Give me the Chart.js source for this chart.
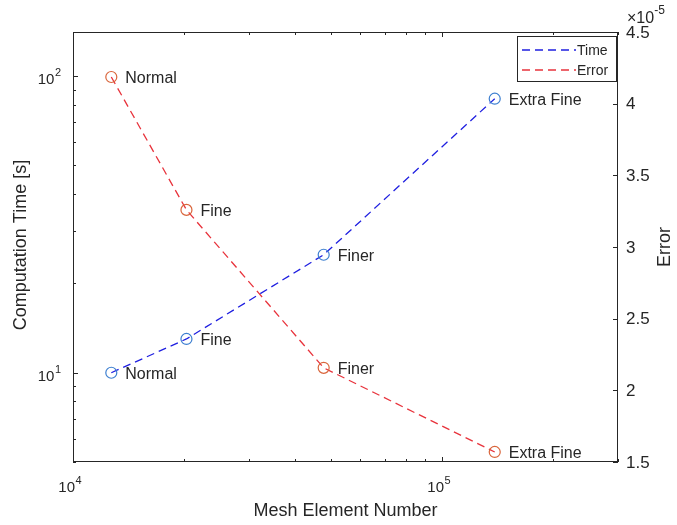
<!DOCTYPE html>
<html>
<head>
<meta charset="utf-8">
<title>Mesh convergence</title>
<script src="https://cdn.jsdelivr.net/npm/chart.js@4/dist/chart.umd.min.js"></script>
<style>
  html, body { margin: 0; padding: 0; background: #fff; }
  canvas { display: block; }
</style>
</head>
<body>
<canvas id="meshChart" width="677" height="525"></canvas>
<script>
// mesh study results
const refinementLabels = ['Normal', 'Fine', 'Finer', 'Extra Fine'];
const meshElements = [12700, 20300, 47800, 139000];
const timeSeconds = [10, 13, 25, 84];
const errorValues = [4.186e-5, 3.259e-5, 2.157e-5, 1.570e-5];

const FONT = "'Liberation Sans', Arial, Helvetica, sans-serif";
const INK = '#262626';

const timeLine = '#1f1fe0';
const timeMarker = '#3d7fd0';
const errorLine = '#e8333c';
const errorMarker = '#d9653b';

// superscript power-of-ten label, e.g. 10^4
function drawPow(ctx, exp, x, baseline, align) {
  ctx.font = '15px ' + FONT;
  const wBase = ctx.measureText('10').width;
  ctx.font = '11px ' + FONT;
  const wExp = ctx.measureText(String(exp)).width;
  const total = wBase + wExp + 0.5;
  let left = x;
  if (align === 'center') left = x - total / 2;
  if (align === 'right') left = x - total;
  ctx.textAlign = 'left';
  ctx.textBaseline = 'alphabetic';
  ctx.font = '15px ' + FONT;
  ctx.fillText('10', left, baseline);
  ctx.font = '11px ' + FONT;
  ctx.fillText(String(exp), left + wBase + 0.5, baseline - 8);
}

function isLogTick(v) {
  const p = Math.pow(10, Math.floor(Math.log10(v) + 1e-9));
  const m = v / p;
  return { ok: Math.abs(m - Math.round(m)) < 1e-6, major: Math.round(m) === 1, exp: Math.round(Math.log10(p)) };
}

// frame, inward ticks, tick labels, titles, point labels, legend
const axesDecor = {
  id: 'axesDecor',
  afterDraw(chart) {
    const { ctx, chartArea: a, scales } = chart;
    const xs = scales.x, yt = scales.yTime, ye = scales.yError;
    ctx.save();
    ctx.strokeStyle = INK;
    ctx.fillStyle = INK;
    ctx.lineWidth = 1;

    // box
    ctx.strokeRect(Math.round(a.left) + 0.5, Math.round(a.top) + 0.5,
      Math.round(a.right - a.left) - 1, Math.round(a.bottom - a.top) - 1);

    ctx.beginPath();
    // x ticks, bottom and top
    xs.ticks.forEach(t => {
      const info = isLogTick(t.value);
      if (!info.ok) return;
      const px = Math.round(xs.getPixelForValue(t.value)) + 0.5;
      const len = info.major ? 5 : 3;
      ctx.moveTo(px, a.bottom); ctx.lineTo(px, a.bottom - len);
      ctx.moveTo(px, a.top); ctx.lineTo(px, a.top + len);
    });
    // left log ticks
    yt.ticks.forEach(t => {
      const info = isLogTick(t.value);
      if (!info.ok) return;
      const py = Math.round(yt.getPixelForValue(t.value)) + 0.5;
      const len = info.major ? 5 : 3;
      ctx.moveTo(a.left, py); ctx.lineTo(a.left + len, py);
    });
    // right linear ticks
    ye.ticks.forEach(t => {
      const py = Math.round(ye.getPixelForValue(t.value)) + 0.5;
      ctx.moveTo(a.right, py); ctx.lineTo(a.right - 5, py);
    });
    ctx.stroke();

    // tick labels
    xs.ticks.forEach(t => {
      const info = isLogTick(t.value);
      if (info.ok && info.major) drawPow(ctx, info.exp, xs.getPixelForValue(t.value) - 3, a.bottom + 30, 'center');
    });
    yt.ticks.forEach(t => {
      const info = isLogTick(t.value);
      if (info.ok && info.major) drawPow(ctx, info.exp, a.left - 12, yt.getPixelForValue(t.value) + 8, 'right');
    });
    ctx.font = '17px ' + FONT;
    ctx.textAlign = 'left';
    ctx.textBaseline = 'middle';
    ye.ticks.forEach(t => {
      const label = parseFloat((t.value * 1e5).toFixed(2)).toString();
      ctx.fillText(label, a.right + 8, ye.getPixelForValue(t.value) + 1);
    });

    // exponent multiplier above right axis
    ctx.textBaseline = 'alphabetic';
    ctx.font = '16px ' + FONT;
    ctx.fillText('\u00d710', a.right + 9, 23);
    const wm = ctx.measureText('\u00d710').width;
    ctx.font = '12px ' + FONT;
    ctx.fillText('-5', a.right + 9 + wm, 14);

    // axis titles
    ctx.font = '18px ' + FONT;
    ctx.textAlign = 'center';
    ctx.textBaseline = 'alphabetic';
    ctx.fillText('Mesh Element Number', (a.left + a.right) / 2, 516);
    ctx.textBaseline = 'middle';
    ctx.save();
    ctx.translate(21, (a.top + a.bottom) / 2 - 2);
    ctx.rotate(-Math.PI / 2);
    ctx.fillText('Computation Time [s]', 0, 0);
    ctx.restore();
    ctx.save();
    ctx.translate(665, (a.top + a.bottom) / 2);
    ctx.rotate(-Math.PI / 2);
    ctx.fillText('Error', 0, 0);
    ctx.restore();

    // refinement labels next to every marker
    ctx.font = '16px ' + FONT;
    ctx.textAlign = 'left';
    ctx.textBaseline = 'middle';
    chart.data.datasets.forEach((ds, di) => {
      chart.getDatasetMeta(di).data.forEach((pt, i) => {
        ctx.fillText(refinementLabels[i], pt.x + 14, pt.y + 2);
      });
    });

    // legend
    const lx = 517, ly = 36, lw = 99, lh = 45;
    ctx.fillStyle = '#fff';
    ctx.fillRect(lx, ly, lw, lh);
    ctx.strokeStyle = INK;
    ctx.strokeRect(lx + 0.5, ly + 0.5, lw, lh);
    ctx.font = '14px ' + FONT;
    ctx.textBaseline = 'middle';
    chart.data.datasets.forEach((ds, di) => {
      const yy = ly + 14 + di * 20;
      ctx.save();
      ctx.strokeStyle = ds.borderColor;
      ctx.lineWidth = ds.borderWidth;
      ctx.setLineDash(ds.borderDash);
      ctx.beginPath();
      ctx.moveTo(lx + 5, yy);
      ctx.lineTo(lx + 59, yy);
      ctx.stroke();
      ctx.restore();
      ctx.fillStyle = INK;
      ctx.fillText(ds.label, lx + 60, yy + 1);
    });
    ctx.restore();
  }
};

const ctx = document.getElementById('meshChart').getContext('2d');
new Chart(ctx, {
  type: 'line',
  data: {
    datasets: [
      {
        label: 'Time',
        yAxisID: 'yTime',
        data: meshElements.map((x, i) => ({ x, y: timeSeconds[i] })),
        borderColor: timeLine,
        borderWidth: 1.3,
        borderDash: [8, 5],
        tension: 0,
        fill: false,
        pointStyle: 'circle',
        pointRadius: 5.5,
        pointBorderWidth: 1.2,
        pointBorderColor: timeMarker,
        pointBackgroundColor: 'rgba(0,0,0,0)'
      },
      {
        label: 'Error',
        yAxisID: 'yError',
        data: meshElements.map((x, i) => ({ x, y: errorValues[i] })),
        borderColor: errorLine,
        borderWidth: 1.3,
        borderDash: [8, 5],
        tension: 0,
        fill: false,
        pointStyle: 'circle',
        pointRadius: 5.5,
        pointBorderWidth: 1.2,
        pointBorderColor: errorMarker,
        pointBackgroundColor: 'rgba(0,0,0,0)'
      }
    ]
  },
  options: {
    responsive: false,
    animation: false,
    events: [],
    layout: { padding: { top: 32, left: 0, right: 0, bottom: 0 } },
    plugins: {
      legend: { display: false },
      tooltip: { enabled: false }
    },
    scales: {
      x: {
        type: 'logarithmic',
        position: 'bottom',
        min: 1e4,
        max: 3e5,
        grid: { display: false },
        border: { display: false },
        ticks: { display: false, autoSkip: false },
        afterFit(scale) { scale.height = 63; }
      },
      yTime: {
        type: 'logarithmic',
        position: 'left',
        min: 5,
        max: 141,
        grid: { display: false },
        border: { display: false },
        ticks: { display: false, autoSkip: false },
        afterFit(scale) { scale.width = 73; }
      },
      yError: {
        type: 'linear',
        position: 'right',
        min: 1.5e-5,
        max: 4.5e-5,
        grid: { display: false },
        border: { display: false },
        ticks: { display: false, stepSize: 0.5e-5 },
        afterFit(scale) { scale.width = 59; }
      }
    }
  },
  plugins: [axesDecor]
});
</script>
</body>
</html>
